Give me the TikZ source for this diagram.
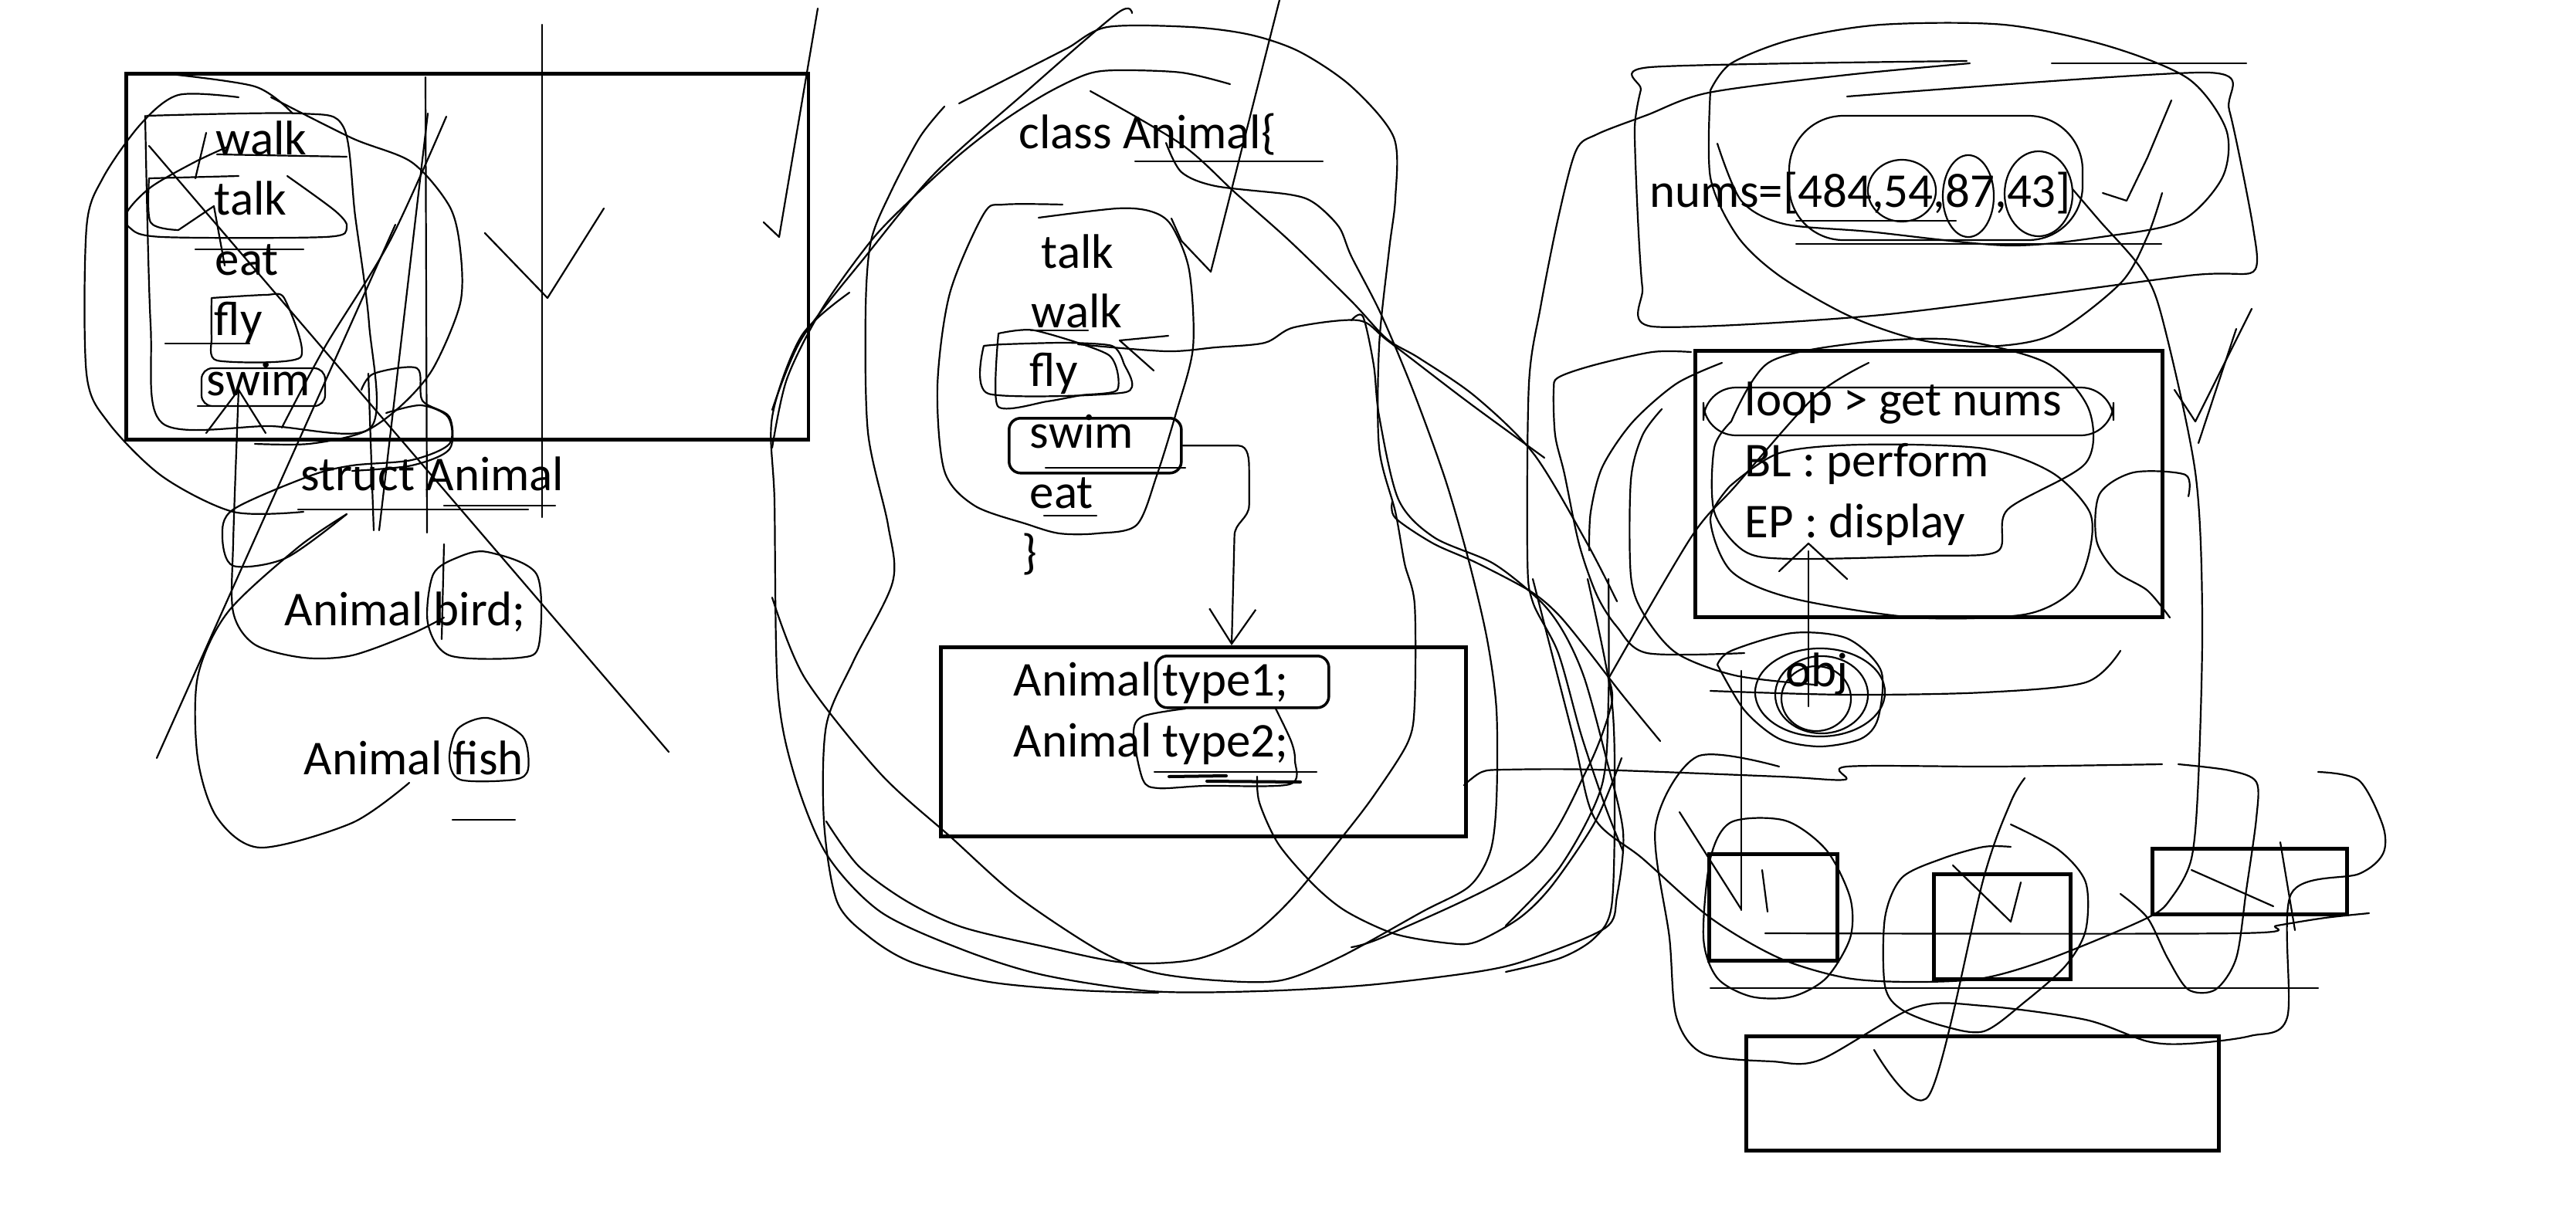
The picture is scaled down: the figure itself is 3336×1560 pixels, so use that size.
\documentclass[tikz,border=0pt]{standalone}
\usepackage{fontspec}
\setmainfont{Carlito}
\usetikzlibrary{arrows.meta,positioning}
\tikzset{
  ink/.style={line width=0.022cm,line cap=round,line join=round},
  frame/.style={draw,line width=0.045cm,inner sep=0pt,anchor=north west},
  tag/.style={draw,line width=0.035cm,rounded corners=0.15cm,inner sep=0pt,anchor=north west},
  word/.style={anchor=base west,inner sep=0pt,font=\fontsize{17.9}{21}\selectfont},
  flow/.style={ink,-{Straight Barb[length=4.5mm,width=6mm]}}
}

\begin{document}
\begin{tikzpicture}[x=0.01cm,y=-0.01cm]
\useasboundingbox (0,0) rectangle (3336,1560);

% struct part
\node[frame,minimum width=8.83cm,minimum height=4.74cm] (structbox) at (161,93) {};
\node[word] (walkA) at (279,200) {walk};
\node[word] (talkA) at (277,278) {talk};
\node[word] (eatA) at (278,356) {eat};
\node[word] (flyA) at (277,434) {fly};
\node[word] (swimA) at (267,512) {swim};
\node[word] (structname) at (389,635) {struct Animal};
\node[word] (bird) at (368,810) {Animal bird;};
\node[word] (fish) at (393,1003) {Animal fish};

\draw[ink] (702,32) -- (702,670);
\draw[ink] (628,302) -- (709,386) -- (782,270);
\draw[ink] (989,288) -- (1009,307) -- (1059,11);
\draw[ink] (193,189) -- (866,974);
\draw[ink] (203,982) -- (512,291);
\draw[ink] (554,147) -- (491,687);
\draw[ink] (551,100) -- (553,690);
\draw[ink] plot[smooth] coordinates {(578,151) (505,312) (421,449) (365,554)};
\draw[ink] plot[smooth] coordinates {(211,95) (330,112) (379,147)};
\draw[ink] plot[smooth] coordinates {(190,150) (390,147) (445,165) (460,280) (478,420) (480,554) (350,552) (210,548) (195,420) (188,150)};
\draw[ink] plot[smooth] coordinates {(372,228) (435,274) (449,295) (421,307) (210,307) (168,295) (165,274) (196,242) (252,210) (295,190)};
\draw[ink] (193,231) -- (309,228);
\draw[ink] plot[smooth] coordinates {(193,231) (195,288) (231,298)};
\draw[ink] plot[smooth,tension=0.4] coordinates {(274,386) (344,382) (368,386) (389,463) (281,467) (274,436) (274,386)};
\draw[ink,rounded corners=4] (261,477) rectangle (421,526);
\draw[ink] (253,323) -- (393,323);
\draw[ink] (214,445) -- (323,445);
\draw[ink] (256,526) -- (407,526);
\draw[ink] (281,200) -- (449,203);
\draw[ink] (210,570) -- (277,570);
\draw[ink] plot[smooth] coordinates {(309,126) (231,123) (182,161) (133,231) (112,295) (112,484) (140,547) (210,617) (302,663) (393,663)};
\draw[ink] plot[smooth] coordinates {(351,126) (456,179) (533,210) (582,267) (596,323) (596,393) (561,477) (519,526) (470,560) (400,575) (330,575)};
\draw[ink] (267,561) -- (309,505) -- (344,561);
\draw[ink] (277,267) -- (291,344);
\draw[ink] (231,298) -- (277,267);
\draw[ink] (253,231) -- (267,172);
\draw[ink] plot[smooth] coordinates {(309,505) (302,702) (302,793) (330,835) (393,852) (456,849) (533,821) (575,800)};
\draw[ink] plot[smooth] coordinates {(449,666) (370,723) (302,733) (288,695) (302,660) (400,617) (456,603) (533,596) (582,575) (580,540) (545,525) (500,535)};
\draw[ink] plot[smooth] coordinates {(468,505) (484,484) (540,477) (547,519) (582,540) (582,582) (533,603) (456,610)};
\draw[ink] (477,484) -- (484,687);
\draw[ink] plot[smooth cycle] coordinates {(593,722) (631,715) (695,744) (698,835) (673,852) (582,849) (554,807) (561,744)};
\draw[ink] (575,705) -- (572,828);
\draw[ink] plot[smooth cycle] coordinates {(593,944) (631,930) (677,954) (684,996) (666,1010) (596,1010) (582,982)};
\draw[ink] plot[smooth] coordinates {(530,1014) (456,1066) (337,1098) (281,1059) (256,982) (256,877) (295,793) (386,709) (449,666)};
\draw[ink] (586,1062) -- (667,1062);
\draw[ink] (386,660) -- (684,660);
\draw[ink] (575,655) -- (719,655);

% class part
\node[word] (classhead) at (1319,192) {class Animal\{};
\node[word] (talkB) at (1348,347) {talk};
\node[word] (walkB) at (1335,424) {walk};
\node[word] (flyB) at (1333,500) {fly};
\node[word] (swimB) at (1333,580) {swim};
\node[word] (eatB) at (1333,658) {eat};
\node[word] (closeB) at (1323,736) {\}};
\node[tag,minimum width=2.23cm,minimum height=0.71cm] (swimtag) at (1305,540) {};
\node[frame,minimum width=6.8cm,minimum height=2.45cm] (decl) at (1216,836) {};
\node[word] (type1) at (1312,901) {Animal type1;};
\node[word] (type2) at (1312,980) {Animal type2;};
\node[tag,minimum width=2.24cm,minimum height=0.67cm] (type1tag) at (1495,848) {};
\coordinate (drop) at (1595,0);

\draw[flow] (swimtag.east) -- ++(72,0) to[out=0,in=90] ++(14,32) -- ++(0,45) to[out=-90,in=90] ++(-19,40) -- (decl.north -| drop);

\draw[ink] plot[smooth] coordinates {(1000,531) (1038,439) (1121,332) (1211,224) (1332,116) (1447,17) (1466,17)};
\draw[ink] plot[smooth] coordinates {(1000,580) (1019,491) (1064,401) (1128,312) (1179,259) (1242,201) (1300,156) (1357,120) (1408,96) (1447,91) (1530,94) (1593,109)};
\draw[ink] plot[smooth] coordinates {(1242,134) (1287,111) (1338,85) (1383,62) (1434,35) (1542,35) (1619,45) (1683,67) (1750,112) (1805,178) (1807,257) (1799,323) (1786,448) (1786,580) (1807,663) (1819,730) (1832,783) (1832,912) (1823,962) (1781,1028) (1744,1077) (1673,1164) (1617,1214) (1547,1243) (1456,1247) (1351,1226) (1246,1201) (1175,1168) (1112,1122) (1070,1064)};
\draw[ink] plot[smooth] coordinates {(1223,138) (1191,178) (1153,250) (1128,312) (1121,401) (1124,560) (1150,680) (1156,754) (1105,857) (1070,940) (1067,1064) (1084,1168) (1126,1214) (1182,1247) (1281,1272) (1400,1283) (1500,1286)};
\draw[ink] plot[smooth] coordinates {(1100,379) (1038,435) (1000,540) (1003,650) (1007,890) (1028,1002) (1070,1106) (1140,1181) (1246,1230) (1351,1263) (1491,1284) (1631,1284) (1772,1276) (1912,1259) (1980,1243) (2079,1202) (2094,1161) (2102,1078) (2079,978) (2052,879) (2026,821) (1995,779) (1934,730) (1857,696) (1811,647) (1786,539) (1779,473) (1765,410) (1750,415)};
\draw[ink] plot[smooth] coordinates {(1510,185) (1530,223) (1574,241) (1670,252) (1702,263) (1734,294) (1750,332) (1788,406) (1830,506) (1872,622) (1903,730) (1926,829) (1938,920) (1938,1036) (1930,1103) (1903,1148) (1842,1181) (1737,1239) (1659,1270) (1575,1270) (1491,1259) (1421,1230) (1316,1160) (1232,1085) (1140,1002) (1042,878) (1000,774)};
\draw[ink] plot[smooth] coordinates {(1412,118) (1530,187) (1600,250) (1670,312) (1750,390) (1796,439) (1838,464) (1911,514) (1987,589) (2056,705) (2094,779)};
\draw[ink] plot[smooth] coordinates {(1628,1006) (1631,1040) (1656,1094) (1702,1147) (1744,1181) (1807,1210) (1877,1222) (1912,1220) (1968,1189) (2010,1147) (2066,1064) (2100,982)};
\draw[ink] plot[smooth] coordinates {(1803,650) (1807,671) (1856,704) (1912,729) (1982,766) (2017,795) (2052,837) (2100,899) (2150,960)};
\draw[ink] plot[smooth] coordinates {(1345,282) (1447,270) (1491,274) (1517,292) (1540,350) (1545,450) (1523,535) (1498,616) (1472,680) (1421,691) (1372,691) (1330,679) (1262,655) (1223,610) (1214,500) (1230,380) (1274,277) (1300,265) (1376,265)};
\draw[ink] (1517,283) -- (1530,312) -- (1568,352) -- (1657,0);
\draw[ink] plot[smooth] coordinates {(1396,446) (1510,455) (1574,450) (1638,444) (1676,424) (1759,415) (1798,442) (1900,520) (2000,593)};
\draw[ink] (1450,441) -- (1513,435);
\draw[ink] (1450,441) -- (1494,480);
\draw[ink] plot[smooth,tension=0.4] coordinates {(1274,448) (1300,446) (1380,444) (1440,448) (1455,470) (1458,508) (1280,510) (1274,448)};
\draw[ink] plot[smooth,tension=0.4] coordinates {(1293,432) (1340,428) (1436,460) (1447,505) (1400,512) (1356,520) (1292,526) (1293,432)};
\draw[ink] (1335,428) -- (1409,428);
\draw[ink] (1352,668) -- (1420,668);
\draw[ink] (1470,209) -- (1713,209);
\draw[ink] (1354,606) -- (1535,606);
\draw[ink] plot[smooth] coordinates {(1535,918) (1480,928) (1468,950) (1480,1010) (1500,1021) (1560,1018) (1670,1016) (1677,985) (1672,960) (1652,918)};
\draw[ink] (1495,1000) -- (1705,1000);
\draw[ink,line width=0.04cm] (1514,1006) -- (1588,1005);
\draw[ink,line width=0.04cm] (1563,1012) -- (1684,1013);
\draw[ink] plot[smooth] coordinates {(1896,1017) (1919,1000) (1950,997) (2065,997) (2304,1006) (2389,1010) (2392,993) (2587,993) (2800,990)};

% loop part
\node[word] (nums) at (2136,268) {nums=[484,54,87,43]};
\node[frame,minimum width=6.05cm,minimum height=3.45cm] (loopbox) at (2193,452) {};
\node[word] (getnums) at (2259,538) {loop > get nums};
\node[word] (perform) at (2259,617) {BL : perform};
\node[word] (display) at (2259,696) {EP : display};
\node[word] (obj) at (2312,889) {obj};
\node[frame,minimum width=1.66cm,minimum height=1.38cm] (slotA) at (2211,1104) {};
\node[frame,minimum width=1.77cm,minimum height=1.36cm] (slotB) at (2502,1130) {};
\node[frame,minimum width=2.52cm,minimum height=0.85cm] (slotC) at (2785,1097) {};
\node[frame,minimum width=6.12cm,minimum height=1.48cm] (outbox) at (2259,1340) {};

\draw[ink] plot[smooth,tension=0.4] coordinates {(2392,125) (2860,94) (2887,143) (2918,296) (2918,352) (2834,357) (2436,408) (2140,423) (2127,373) (2121,282) (2117,166) (2125,116) (2137,87) (2547,79)};
\draw[ink] (2657,82) -- (2909,82);
\draw[ink] plot[smooth] coordinates {(2215,117) (2242,82) (2321,51) (2436,32) (2595,32) (2728,59) (2834,102) (2883,168) (2878,230) (2825,286) (2728,306) (2600,318) (2420,300) (2310,290) (2255,260) (2224,186)};
\draw[ink] plot[smooth] coordinates {(2215,117) (2215,230) (2250,306) (2304,357) (2392,408) (2480,439) (2569,449) (2657,434) (2746,367) (2781,306) (2800,250)};
\draw[ink,rounded corners=20] (2317,150) rectangle (2697,311);
\draw[ink] (2463,247) ellipse [x radius=0.44cm,y radius=0.4cm];
\draw[ink] (2549,254) ellipse [x radius=0.33cm,y radius=0.53cm];
\draw[ink] (2640,251) ellipse [x radius=0.44cm,y radius=0.55cm];
\draw[ink] (2326,316) -- (2799,316);
\draw[ink] (2326,286) -- (2533,286);
\draw[ink] plot[smooth] coordinates {(2102,1103) (2079,1045) (2048,953) (2018,846) (1985,780) (1978,721) (1980,497) (1995,398) (2018,282) (2041,195) (2068,174) (2133,149) (2213,120) (2392,97) (2551,82)};
\draw[ink] plot[smooth] coordinates {(2083,879) (2190,696) (2247,630) (2350,514) (2420,470)};
\draw[ink] plot[smooth] coordinates {(1750,1227) (1800,1210) (1980,1119) (2056,995) (2087,912) (2083,879)};
\draw[ink] plot[smooth] coordinates {(2190,456) (2140,456) (2064,473) (2018,489) (2012,506) (2014,564) (2026,614) (2045,705) (2068,771) (2094,812) (2133,846) (2259,846)};
\draw[ink] plot[smooth] coordinates {(2058,713) (2060,663) (2075,605) (2114,547) (2171,497) (2230,470)};
\draw[ink] plot[smooth] coordinates {(2152,530) (2127,564) (2112,622) (2112,746) (2129,796) (2171,846) (2247,875) (2350,887)};
\draw[ink] plot[smooth] coordinates {(2834,643) (2830,615) (2763,612) (2719,640) (2715,700) (2740,740) (2781,765) (2810,800)};
\draw[ink] (2812,130) -- (2781,204) -- (2754,260) -- (2723,250);
\draw[ink] (2916,400) -- (2843,546) -- (2816,505);
\draw[ink] (2896,426) -- (2847,574);
\draw[ink] plot[smooth] coordinates {(2684,245) (2719,286) (2772,347) (2799,408) (2843,612) (2852,800) (2847,1008) (2838,1112) (2812,1163) (2781,1189) (2657,1241) (2569,1267) (2480,1272) (2392,1267) (2304,1241) (2215,1189) (2127,1112) (2065,1060) (2038,957) (1985,750)};
\draw[ink,rounded corners=12] (2206,502) rectangle (2737,564);
\draw[ink] plot[smooth] coordinates {(2242,546) (2220,580) (2220,663) (2259,714) (2321,724) (2500,720) (2587,714) (2600,660) (2701,600) (2705,530) (2650,470) (2530,440) (2400,445) (2290,470) (2242,546)};
\draw[ink] plot[smooth] coordinates {(2240,630) (2215,673) (2242,740) (2321,775) (2480,800) (2622,796) (2684,765) (2706,714) (2706,663) (2657,612) (2569,581) (2410,576) (2304,587) (2240,630)};
\draw[ink] (2357,897) ellipse [x radius=0.84cm,y radius=0.57cm];
\draw[ink] (2359,900) ellipse [x radius=0.6cm,y radius=0.5cm];
\draw[ink] (2352,905) ellipse [x radius=0.45cm,y radius=0.42cm];
\draw[ink] plot[smooth] coordinates {(2224,861) (2242,843) (2321,820) (2392,827) (2436,869) (2432,931) (2410,957) (2357,967) (2304,957) (2259,920) (2224,861)};
\draw[ink] (2342,714) -- (2342,915);
\draw[ink] (2304,740) -- (2342,704) -- (2392,750);
\draw[ink] (2255,869) -- (2255,1179);
\draw[ink] plot[smooth] coordinates {(2215,895) (2392,900) (2569,897) (2701,884) (2746,843)};
\draw[ink] plot[smooth cycle] coordinates {(2242,1065) (2312,1063) (2365,1101) (2396,1163) (2396,1215) (2365,1267) (2321,1291) (2268,1291) (2224,1267) (2206,1215) (2215,1112)};
\draw[ink] plot[smooth] coordinates {(2604,1097) (2569,1097) (2516,1112) (2463,1137) (2441,1189) (2441,1277) (2463,1308) (2516,1329) (2569,1336) (2622,1298) (2675,1251) (2701,1205) (2701,1143) (2666,1101) (2604,1068)};
\draw[ink] plot[smooth] coordinates {(2821,990) (2887,998) (2922,1013) (2922,1060) (2909,1153) (2896,1241) (2869,1282) (2834,1282) (2807,1241) (2781,1189) (2746,1158)};
\draw[ink] plot[smooth] coordinates {(3002,1000) (3055,1011) (3086,1070) (3086,1106) (3055,1132) (2967,1158) (2962,1318) (2914,1342) (2834,1352) (2781,1349) (2701,1321) (2569,1303) (2480,1305) (2357,1373) (2295,1375) (2206,1365) (2171,1318) (2162,1215) (2144,1070) (2198,980) (2304,993)};
\draw[ink] (2215,1280) -- (3002,1280);
\draw[ink] plot[smooth] coordinates {(2286,1209) (2896,1209) (2949,1199) (3011,1189) (3068,1183)};
\draw[ink] plot[smooth] coordinates {(2427,1360) (2498,1419) (2569,1137) (2604,1039) (2622,1008)};
\draw[ink] (2175,1052) -- (2255,1178);
\draw[ink] (2282,1127) -- (2289,1181);
\draw[ink] (2529,1121) -- (2604,1194) -- (2617,1143);
\draw[ink] (2838,1127) -- (2944,1174);
\draw[ink] (2953,1091) -- (2972,1205);
\draw[ink] plot[smooth] coordinates {(1950,1199) (2021,1122) (2074,1019) (2083,905) (2083,750)};
\draw[ink] plot[smooth] coordinates {(1950,1259) (2021,1241) (2065,1215) (2087,1174) (2091,1040) (2087,905) (2056,750)};

\end{tikzpicture}
\end{document}
